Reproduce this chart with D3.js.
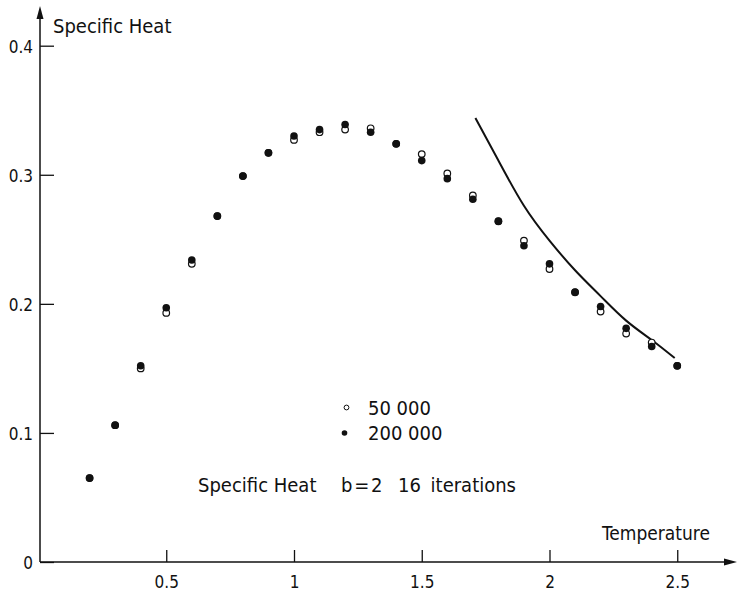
<!DOCTYPE html>
<html>
<head>
<meta charset="utf-8">
<script src="https://cdn.jsdelivr.net/npm/d3@7"></script>
<style>
  body { margin: 0; background: #fff; }
  svg { display: block; }
  text { font-family: "DejaVu Sans Condensed", "DejaVu Sans", sans-serif; font-stretch: condensed; fill: #111; }
</style>
</head>
<body>
<div id="container"></div>
<script>
// Temperatures (x) and specific heat for the two run lengths
const temps = [0.2, 0.3, 0.4, 0.5, 0.6, 0.7, 0.8, 0.9, 1.0, 1.1, 1.2, 1.3,
  1.4, 1.5, 1.6, 1.7, 1.8, 1.9, 2.0, 2.1, 2.2, 2.3, 2.4, 2.5];
const heat50k = [0.065, 0.106, 0.150, 0.193, 0.231, 0.268, 0.299, 0.317, 0.327, 0.333, 0.335, 0.336,
  0.324, 0.316, 0.301, 0.284, 0.264, 0.249, 0.227, 0.209, 0.194, 0.177, 0.170, 0.152];
const heat200k = [0.065, 0.106, 0.152, 0.197, 0.234, 0.268, 0.299, 0.317, 0.330, 0.335, 0.339, 0.333,
  0.324, 0.311, 0.297, 0.281, 0.264, 0.245, 0.231, 0.209, 0.198, 0.181, 0.167, 0.152];

// high temperature curve
const curveT = [1.71, 1.80, 1.90, 2.00, 2.10, 2.20, 2.30, 2.40, 2.49];
const curveC = [0.344, 0.311, 0.276, 0.249, 0.226, 0.206, 0.187, 0.172, 0.158];

const xTicks = [0.5, 1, 1.5, 2, 2.5];
const yTicks = [0, 0.1, 0.2, 0.3, 0.4];

const svg = d3.select('#container').append('svg')
  .attr('width', 740)
  .attr('height', 601);

// Scales
const x = d3.scaleLinear().domain([0, 2.5]).range([38.5, 677.25]);
const y = d3.scaleLinear().domain([0, 0.4]).range([562, 45.7]);

// Axes
svg.append('g')
  .attr('transform', `translate(0,${y(0)})`)
  .call(d3.axisBottom(x).tickValues(xTicks).tickFormat(d => d).tickSizeInner(-12).tickSizeOuter(0).tickPadding(14))
  .call(g => g.select('.domain').remove())
  .call(g => g.selectAll('.tick line').attr('stroke', '#111').attr('stroke-width', 1.3))
  .call(g => g.selectAll('.tick text').attr('font-size', 17).style('font-family', null));

svg.append('g')
  .attr('transform', `translate(${x(0) + 1.5},0)`)
  .call(d3.axisLeft(y).tickValues(yTicks).tickFormat(d => d).tickSizeInner(-14).tickSizeOuter(0).tickPadding(7))
  .call(g => g.select('.domain').remove())
  .call(g => g.selectAll('.tick line').attr('stroke', '#111').attr('stroke-width', 1.3))
  .call(g => g.selectAll('.tick text').attr('font-size', 17).attr('dy', '0.4em').style('font-family', null));

// axis lines with arrows
const x0 = x(0) + 1.5;
svg.append('line')
  .attr('x1', x0).attr('x2', 733).attr('y1', y(0)).attr('y2', y(0))
  .attr('stroke', '#111').attr('stroke-width', 1.5);
svg.append('path')
  .attr('d', `M737,${y(0)} L724,${y(0) - 3.5} L724,${y(0) + 3.5} Z`)
  .attr('fill', '#111');
svg.append('line')
  .attr('x1', x0).attr('x2', x0).attr('y1', y(0)).attr('y2', 12)
  .attr('stroke', '#111').attr('stroke-width', 1.5);
svg.append('path')
  .attr('d', `M${x0},6 L${x0 - 3.5},19 L${x0 + 3.5},19 Z`)
  .attr('fill', '#111');

// Axis titles
svg.append('text').attr('x', 53).attr('y', 33).attr('font-size', 20).text('Specific Heat');
svg.append('text').attr('x', 602).attr('y', 540).attr('font-size', 19).text('Temperature');

// Curve
const curveData = curveT.map((t, i) => ({ t, c: curveC[i] }));
svg.append('path')
  .datum(curveData)
  .attr('fill', 'none')
  .attr('stroke', '#111')
  .attr('stroke-width', 2)
  .attr('d', d3.line().x(d => x(d.t)).y(d => y(d.c)).curve(d3.curveNatural));

// Points: open (50 000) below, filled (200 000) on top
svg.append('g').selectAll('circle')
  .data(temps.map((t, i) => ({ t, c: heat50k[i] })))
  .enter().append('circle')
  .attr('cx', d => x(d.t))
  .attr('cy', d => y(d.c))
  .attr('r', 3.3)
  .attr('fill', '#fff')
  .attr('stroke', '#111')
  .attr('stroke-width', 1.2);

svg.append('g').selectAll('circle')
  .data(temps.map((t, i) => ({ t, c: heat200k[i] })))
  .enter().append('circle')
  .attr('cx', d => x(d.t))
  .attr('cy', d => y(d.c))
  .attr('r', 3.8)
  .attr('fill', '#111');

// Legend
svg.append('circle').attr('cx', 346.5).attr('cy', 407.5).attr('r', 2.4)
  .attr('fill', '#fff').attr('stroke', '#111').attr('stroke-width', 1);
svg.append('text').attr('x', 368).attr('y', 415).attr('font-size', 20).text('50 000');
svg.append('circle').attr('cx', 344.5).attr('cy', 433).attr('r', 2.8).attr('fill', '#111');
svg.append('text').attr('x', 368).attr('y', 440).attr('font-size', 20).text('200 000');

// Annotation
svg.append('text').attr('x', 198).attr('y', 492).attr('font-size', 20).text('Specific Heat');
svg.append('text').attr('x', 341).attr('y', 492).attr('font-size', 20)
  .style('word-spacing', '-4px').text('b = 2');
svg.append('text').attr('x', 398).attr('y', 492).attr('font-size', 20)
  .style('word-spacing', '4px').text('16 iterations');
</script>
</body>
</html>
